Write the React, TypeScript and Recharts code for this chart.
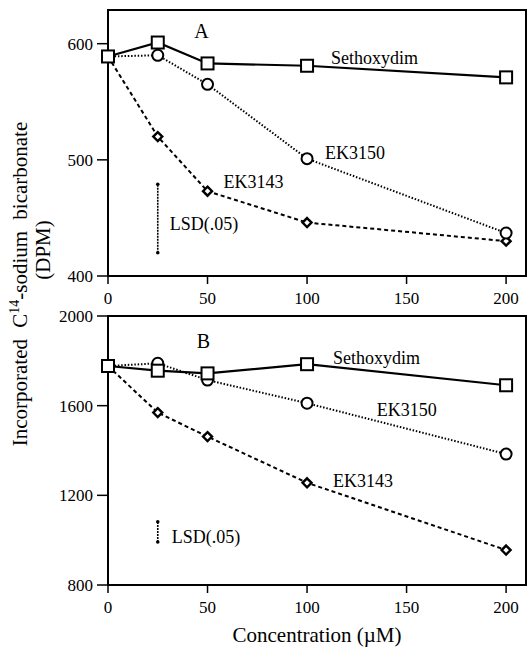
import React from 'react';
import { LineChart, Line, XAxis, YAxis, ReferenceArea, ReferenceLine, ReferenceDot } from 'recharts';

const concentrations = [0, 25, 50, 100, 200];
const sethoxydimA = [589, 601, 583, 581, 571];
const ek3150A = [589, 590, 565, 501, 437];
const ek3143A = [589, 520, 473, 446, 430];
const sethoxydimB = [1777, 1756, 1744, 1785, 1691];
const ek3150B = [1777, 1789, 1714, 1611, 1384];
const ek3143B = [1777, 1569, 1462, 1256, 956];

const xTicks = [0, 50, 100, 150, 200];
const yTicksA = [400, 500, 600];
const yTicksB = [800, 1200, 1600, 2000];
const lsdA = [420, 479];
const lsdB = [992, 1082];

// text annotations, anchored in data units
const notesA = [
  { text: 'A', x: 47, y: 611, anchor: 'middle', size: 20 },
  { text: 'Sethoxydim', x: 112, y: 588, anchor: 'start', size: 18 },
  { text: 'EK3150', x: 109, y: 506, anchor: 'start', size: 18 },
  { text: 'EK3143', x: 58, y: 481, anchor: 'start', size: 18 },
  { text: 'LSD(.05)', x: 31, y: 445, anchor: 'start', size: 18 },
];
const notesB = [
  { text: 'B', x: 48, y: 1888, anchor: 'middle', size: 20 },
  { text: 'Sethoxydim', x: 113, y: 1813, anchor: 'start', size: 18 },
  { text: 'EK3150', x: 135, y: 1581, anchor: 'start', size: 18 },
  { text: 'EK3143', x: 113, y: 1264, anchor: 'start', size: 18 },
  { text: 'LSD(.05)', x: 32, y: 1014, anchor: 'start', size: 18 },
];

const FONT = '"Liberation Serif", "Times New Roman", serif';

const SquareDot = (p: any) => (
  <rect key={`s${p.index}`} x={p.cx - 6} y={p.cy - 6} width={12} height={12} fill="#fff" stroke="#000" strokeWidth={2} />
);
const CircleDot = (p: any) => (
  <circle key={`c${p.index}`} cx={p.cx} cy={p.cy} r={5.5} fill="#fff" stroke="#000" strokeWidth={2} />
);
const DiamondDot = (p: any) => (
  <polygon
    key={`d${p.index}`}
    points={`${p.cx},${p.cy - 4.5} ${p.cx + 4.5},${p.cy} ${p.cx},${p.cy + 4.5} ${p.cx - 4.5},${p.cy}`}
    fill="#fff"
    stroke="#000"
    strokeWidth={2.4}
  />
);

const tickStyle = { fill: '#000', fontSize: 17, fontFamily: FONT };

interface PanelProps {
  seth: number[];
  ek3150: number[];
  ek3143: number[];
  yDomain: [number, number];
  yTicks: number[];
  lsd: number[];
  notes: typeof notesA;
  height: number;
  xAxisHeight: number;
  showTitle?: boolean;
}

const Panel: React.FC<PanelProps> = ({ seth, ek3150, ek3143, yDomain, yTicks, lsd, notes, height, xAxisHeight, showTitle }) => {
  const data = concentrations.map((c, i) => ({ conc: c, seth: seth[i], ek3150: ek3150[i], ek3143: ek3143[i] }));
  return (
    <LineChart width={530} height={height} data={data} margin={{ top: 10, right: 4, left: 0, bottom: 0 }}>
      <XAxis
        dataKey="conc"
        type="number"
        domain={[0, 210]}
        ticks={xTicks}
        height={xAxisHeight}
        tick={tickStyle}
        tickSize={8}
        tickMargin={8}
        axisLine={{ stroke: '#000', strokeWidth: 2 }}
        tickLine={{ stroke: '#000', strokeWidth: 1.5 }}
        label={showTitle ? { value: 'Concentration (µM)', position: 'insideBottom', offset: 6, fill: '#000', fontSize: 21, fontFamily: FONT } : undefined}
      />
      <YAxis
        type="number"
        domain={yDomain}
        ticks={yTicks}
        width={108}
        tick={tickStyle}
        tickSize={11}
        tickMargin={4}
        allowDataOverflow
        axisLine={{ stroke: '#000', strokeWidth: 2 }}
        tickLine={{ stroke: '#000', strokeWidth: 1.5 }}
      />
      <ReferenceArea x1={0} x2={210} y1={yDomain[0]} y2={yDomain[1]} fill="none" stroke="#000" strokeWidth={2} ifOverflow="visible" />
      <ReferenceLine
        segment={[{ x: 25, y: lsd[0] }, { x: 25, y: lsd[1] }]}
        stroke="#000"
        strokeWidth={1.6}
        strokeDasharray="2 1"
      />
      <ReferenceDot x={25} y={lsd[0]} r={1.8} fill="#000" stroke="none" />
      <ReferenceDot x={25} y={lsd[1]} r={1.8} fill="#000" stroke="none" />
      {notes.map((n) => (
        <ReferenceDot
          key={n.text}
          x={n.x}
          y={n.y}
          r={0}
          shape={(p: any) => (
            <text x={p.cx} y={p.cy} textAnchor={n.anchor as any} dominantBaseline="central" fontSize={n.size} fontFamily={FONT} fill="#000">
              {n.text}
            </text>
          )}
        />
      ))}
      <Line dataKey="ek3143" stroke="#000" strokeWidth={2} strokeDasharray="4 3" dot={DiamondDot} isAnimationActive={false} />
      <Line dataKey="ek3150" stroke="#000" strokeWidth={2} strokeDasharray="1.5 1.8" dot={CircleDot} isAnimationActive={false} />
      <Line dataKey="seth" stroke="#000" strokeWidth={2.2} dot={SquareDot} isAnimationActive={false} />
    </LineChart>
  );
};

export default function App() {
  return (
    <div style={{ position: 'absolute', left: 0, top: 0, width: 530, height: 648, background: '#fff', fontFamily: FONT }}>
      <div style={{ position: 'absolute', left: 0, top: 0 }}>
        <Panel seth={sethoxydimA} ek3150={ek3150A} ek3143={ek3143A} yDomain={[400, 629]} yTicks={yTicksA} lsd={lsdA} notes={notesA} height={315} xAxisHeight={39} />
      </div>
      <div style={{ position: 'absolute', left: 0, top: 306 }}>
        <Panel seth={sethoxydimB} ek3150={ek3150B} ek3143={ek3143B} yDomain={[800, 2000]} yTicks={yTicksB} lsd={lsdB} notes={notesB} height={342} xAxisHeight={63} showTitle />
      </div>
      <svg width={70} height={648} style={{ position: 'absolute', left: 0, top: 0 }}>
        <text x={27} y={284} transform="rotate(-90 27 284)" textAnchor="middle" fontSize={21} fontFamily={FONT} fill="#000" wordSpacing={6}>
          Incorporated C<tspan dy={-8} fontSize={14}>14</tspan><tspan dy={8}>-sodium bicarbonate</tspan>
        </text>
        <text x={50} y={250} transform="rotate(-90 50 250)" textAnchor="middle" fontSize={21} fontFamily={FONT} fill="#000">
          (DPM)
        </text>
      </svg>
    </div>
  );
}
